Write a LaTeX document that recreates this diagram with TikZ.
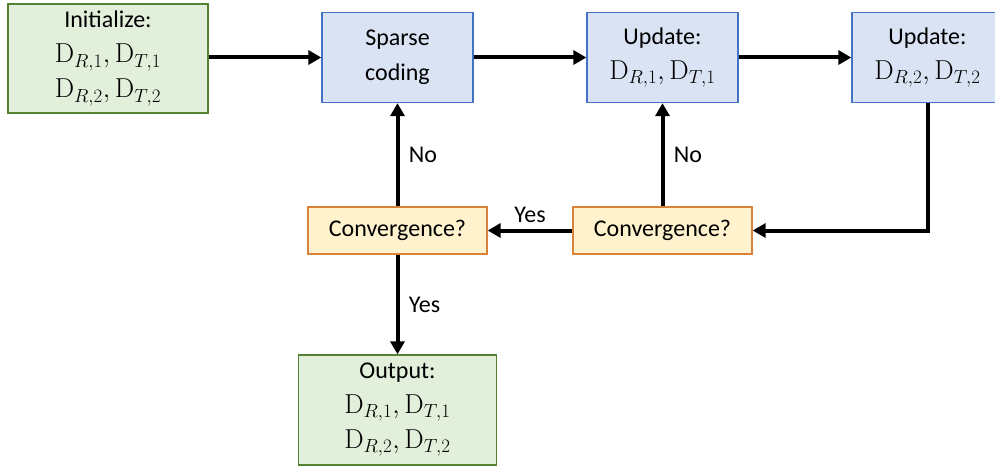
\documentclass[tikz,border=0pt]{standalone}
\usepackage[no-math]{fontspec}
\usepackage{graphicx}
\setmainfont{Carlito}
\usetikzlibrary{arrows.meta}
\definecolor{gfill}{HTML}{E2EFDA}
\definecolor{gdraw}{HTML}{548235}
\definecolor{bfill}{HTML}{DAE3F3}
\definecolor{bdraw}{HTML}{4472C4}
\definecolor{ofill}{HTML}{FFF2CC}
\definecolor{odraw}{HTML}{D9823B}
\newcommand{\Dsub}[1]{\mathrm{D}_{#1}}
\newcommand{\mline}[1]{\scalebox{1.1}{$#1$}}
\begin{document}
\begin{tikzpicture}[x=1pt,y=-1pt,
  box/.style={draw, line width=1.3pt, align=center, inner sep=0pt,
    font=\fontsize{24}{35}\selectfont},
  greenbox/.style={box, fill=gfill, draw=gdraw, minimum width=200pt, minimum height=109pt},
  bluebox/.style={box, fill=bfill, draw=bdraw, minimum width=151pt, minimum height=90pt},
  orangebox/.style={box, fill=ofill, draw=odraw, minimum width=179pt, minimum height=47pt},
  conn/.style={line width=4pt, -{Triangle[length=13pt,width=14pt]}},
  lbl/.style={font=\fontsize{24}{28}\selectfont}]
\useasboundingbox (0,0) rectangle (995,468);
\node[greenbox] (init) at (108,58.5) {Initialize:\\\mline{\Dsub{R,1},\Dsub{T,1}}\\\mline{\Dsub{R,2},\Dsub{T,2}}};
\node[bluebox] (sparse) at (397.5,57.5) {Sparse\\coding};
\node[bluebox] (up1) at (662.5,57.5) {Update:\\\mline{\Dsub{R,1},\Dsub{T,1}}};
\node[bluebox] (up2) at (927.5,57.5) {Update:\\\mline{\Dsub{R,2},\Dsub{T,2}}};
\node[orangebox] (conv2) at (662.5,230.5) {Convergence?};
\node[orangebox] (conv1) at (397.5,230.5) {Convergence?};
\node[greenbox, minimum width=198pt, minimum height=110pt] (out) at (397.5,410) {Output:\\\mline{\Dsub{R,1},\Dsub{T,1}}\\\mline{\Dsub{R,2},\Dsub{T,2}}};
\coordinate (corner) at (up2.south |- conv2.east);
\coordinate (istart) at (init.east |- sparse.west);
\draw[conn] (istart) -- (sparse.west);
\draw[conn] (sparse.east) -- (up1.west);
\draw[conn] (up1.east) -- (up2.west);
\draw[conn] (up2.south) -- (corner) -- (conv2.east);
\draw[conn] (conv2.west) -- node[lbl, above=2pt] (y1) {Yes} (conv1.east);
\draw[conn] (conv2.north) -- node[lbl, right=6pt] (n2) {No} (up1.south);
\draw[conn] (conv1.north) -- node[lbl, right=6pt] (n1) {No} (sparse.south);
\draw[conn] (conv1.south) -- node[lbl, right=6pt] (y2) {Yes} (out.north);
\end{tikzpicture}
\end{document}
